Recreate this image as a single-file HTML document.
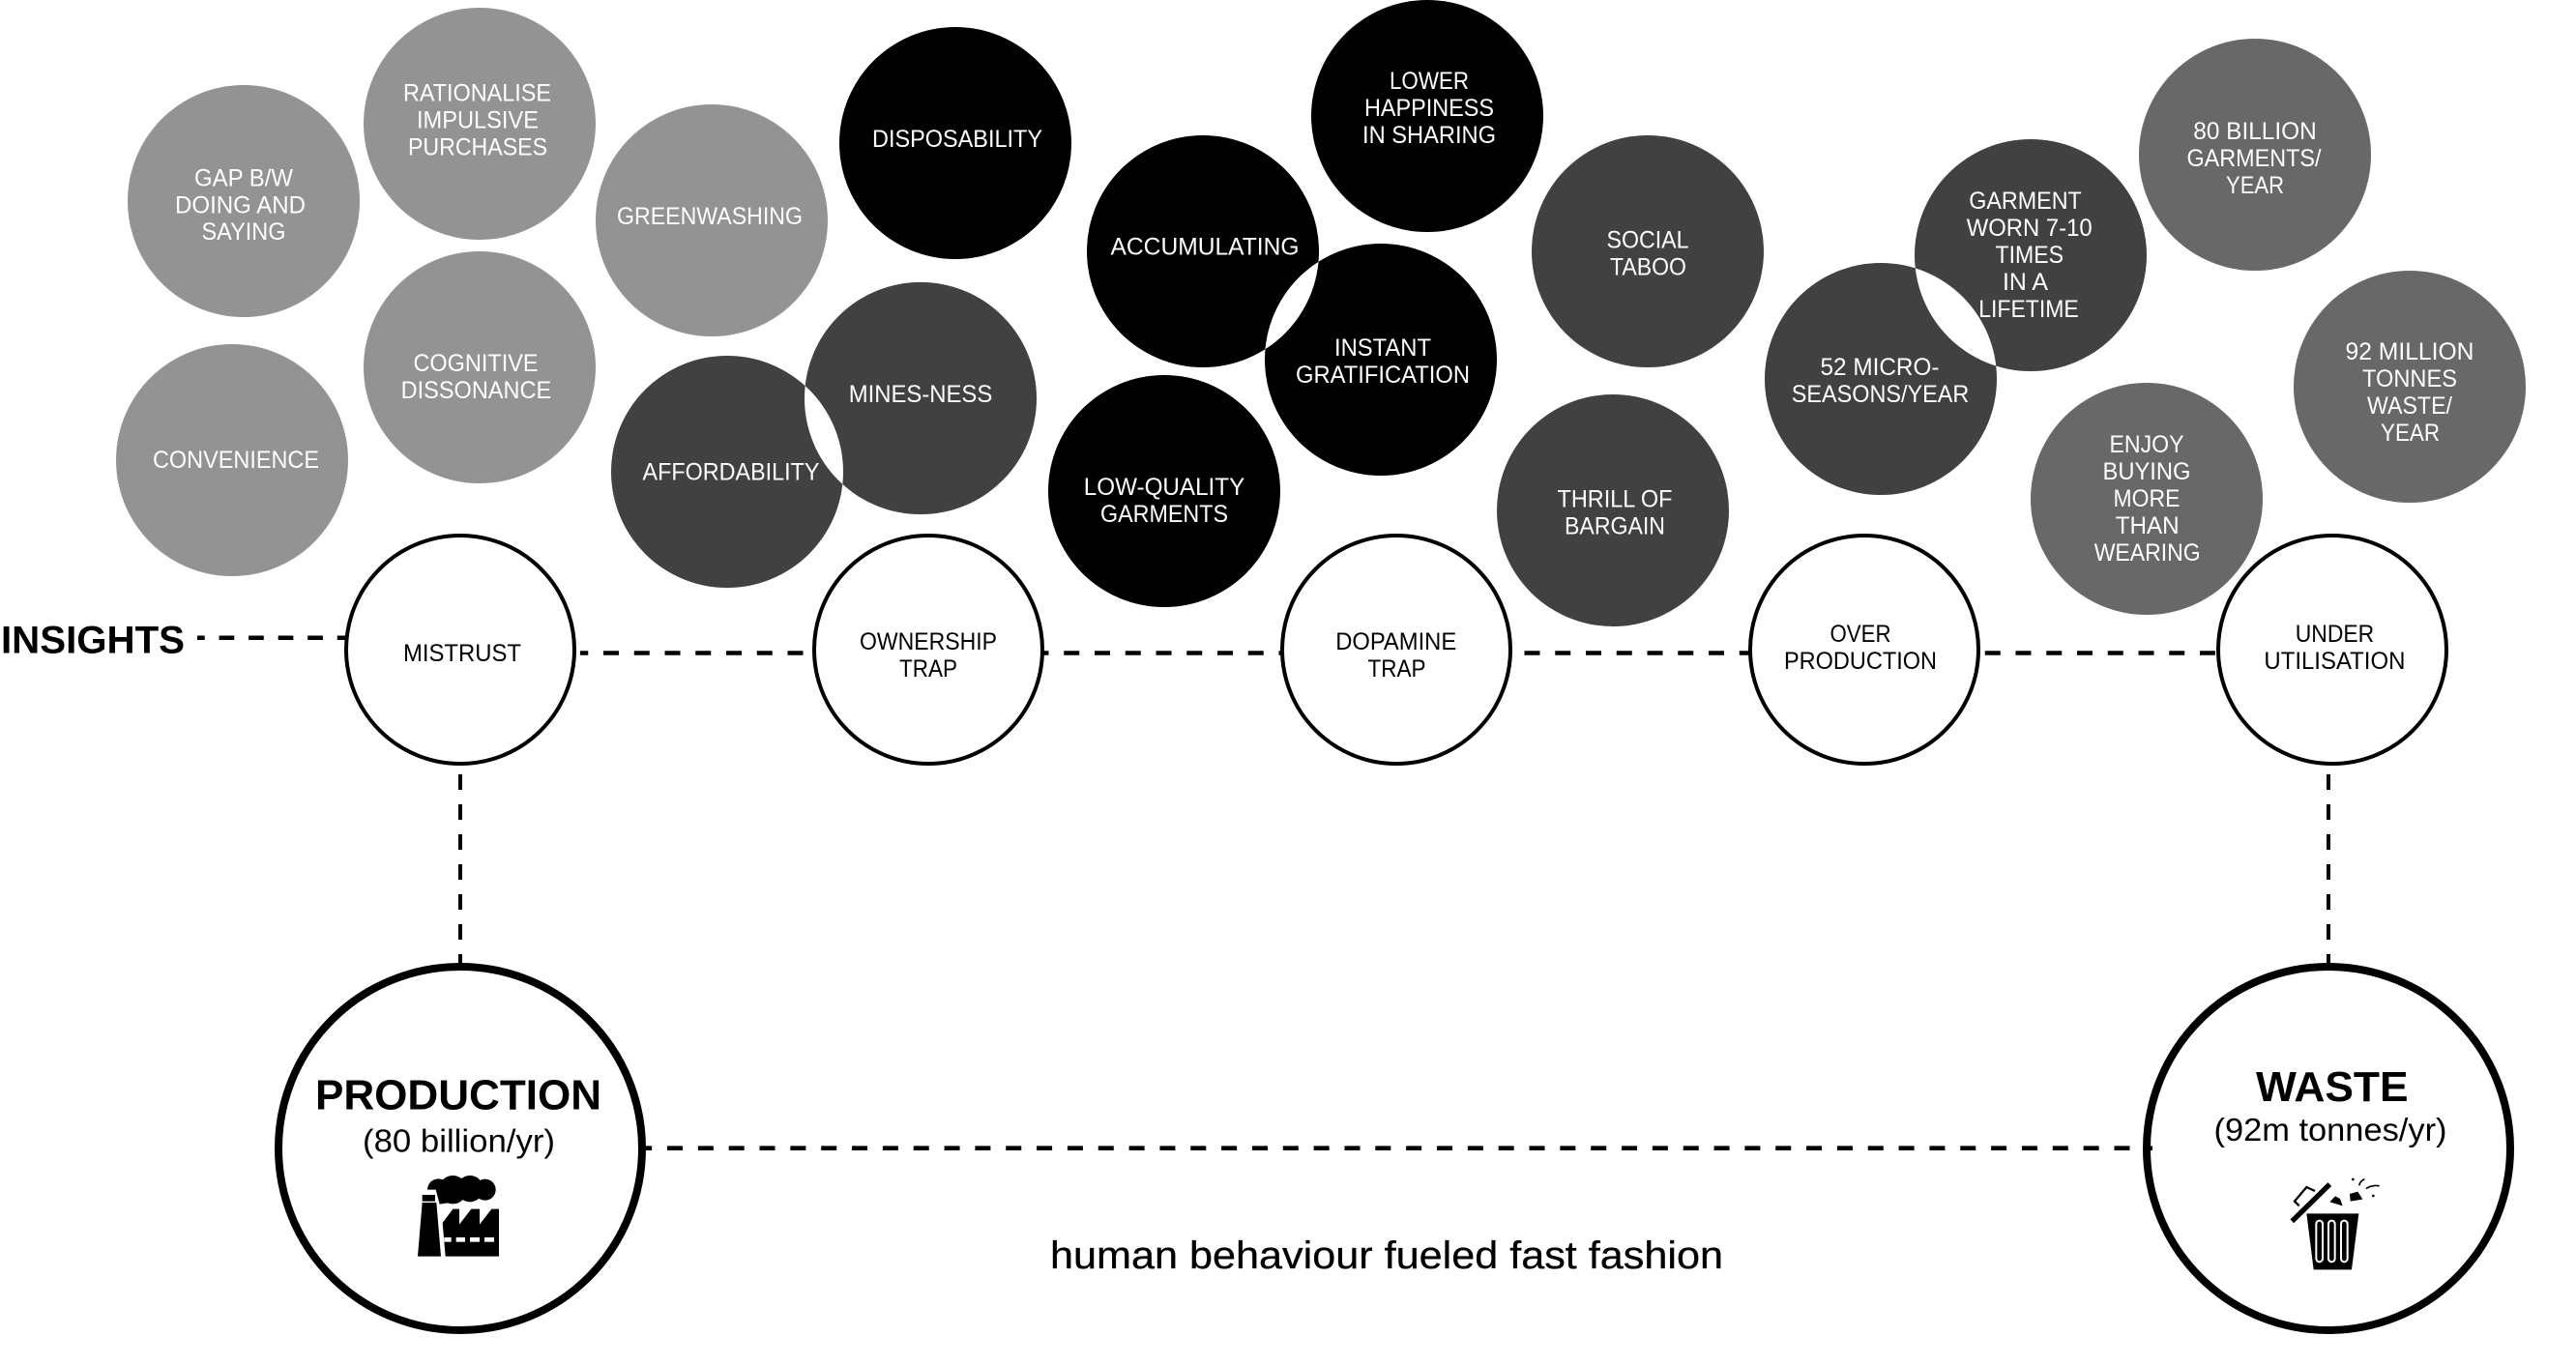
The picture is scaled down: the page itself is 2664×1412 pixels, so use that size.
<!DOCTYPE html>
<html>
<head>
<meta charset="utf-8">
<style>
html,body{margin:0;padding:0;background:#fff;width:2664px;height:1412px;overflow:hidden}
svg{display:block}
text{font-family:"Liberation Sans",sans-serif}
.l text{font-size:25px;fill:#fff;text-anchor:middle}
.d text{font-size:25px;fill:#000;text-anchor:middle}
</style>
</head>
<body>
<svg width="2664" height="1412" viewBox="0 0 2664 1412" xmlns="http://www.w3.org/2000/svg">
<rect width="2664" height="1412" fill="#fff"/>

<!-- light gray -->
<g fill="#939393">
<circle cx="252" cy="208" r="120"/>
<circle cx="496" cy="128" r="120"/>
<circle cx="736" cy="228" r="120"/>
<circle cx="496" cy="380" r="120"/>
<circle cx="240" cy="476" r="120"/>
</g>
<!-- dark -->
<g fill="#414141" fill-rule="evenodd">
<path d="M632 488a120 120 0 1 0 240 0a120 120 0 1 0 -240 0zM832 412a120 120 0 1 0 240 0a120 120 0 1 0 -240 0z"/>
<path d="M1825 392a120 120 0 1 0 240 0a120 120 0 1 0 -240 0zM1980 264a120 120 0 1 0 240 0a120 120 0 1 0 -240 0z"/>
<circle cx="1704" cy="260" r="120"/>
<circle cx="1668" cy="528" r="120"/>
</g>
<!-- black -->
<g fill="#000" fill-rule="evenodd">
<path d="M1124 260a120 120 0 1 0 240 0a120 120 0 1 0 -240 0zM1308 372a120 120 0 1 0 240 0a120 120 0 1 0 -240 0z"/>
<circle cx="988" cy="148" r="120"/>
<circle cx="1204" cy="508" r="120"/>
<circle cx="1476" cy="120" r="120"/>
</g>
<!-- mid gray -->
<g fill="#686868">
<circle cx="2332" cy="160" r="120"/>
<circle cx="2492" cy="400" r="120"/>
<circle cx="2220" cy="516" r="120"/>
</g>

<!-- dashed connectors -->
<g fill="none" stroke="#000">
<line x1="204" y1="659.7" x2="358" y2="659.7" stroke-width="4.5" stroke-dasharray="15.7 14.85" stroke-dashoffset="8"/>
<line x1="600" y1="675.5" x2="2300" y2="675.5" stroke-width="4.5" stroke-dasharray="16 15.75" stroke-dashoffset="7.75"/>
<line x1="476" y1="801" x2="476" y2="998" stroke-width="4" stroke-dasharray="16 15"/>
<line x1="2408" y1="801" x2="2408" y2="998" stroke-width="4" stroke-dasharray="16 15"/>
</g>

<!-- insight circles -->
<g fill="#fff" stroke="#000" stroke-width="4">
<circle cx="476" cy="672" r="118"/>
<circle cx="960" cy="672" r="118"/>
<circle cx="1444" cy="672" r="118"/>
<circle cx="1928" cy="672" r="118"/>
<circle cx="2412" cy="672" r="118"/>
</g>

<!-- big circles -->
<g fill="#fff" stroke="#000" stroke-width="8">
<circle cx="476" cy="1188" r="188"/>
<circle cx="2408" cy="1188" r="188"/>
</g>
<line x1="668" y1="1187.7" x2="2226" y2="1187.7" stroke="#000" stroke-width="4.6" stroke-dasharray="16 15.84" stroke-dashoffset="9.84"/>

<!-- labels white -->
<g class="l">
<text x="252" y="192.3" textLength="102" lengthAdjust="spacingAndGlyphs">GAP B/W</text>
<text x="248.5" y="220.3" textLength="135" lengthAdjust="spacingAndGlyphs">DOING AND</text>
<text x="252" y="248.2" textLength="87" lengthAdjust="spacingAndGlyphs">SAYING</text>
<text x="493.5" y="104.5" textLength="153" lengthAdjust="spacingAndGlyphs">RATIONALISE</text>
<text x="494" y="132.5" textLength="126" lengthAdjust="spacingAndGlyphs">IMPULSIVE</text>
<text x="494" y="160.4" textLength="144" lengthAdjust="spacingAndGlyphs">PURCHASES</text>
<text x="734" y="232" textLength="192" lengthAdjust="spacingAndGlyphs">GREENWASHING</text>
<text x="492" y="384" textLength="129" lengthAdjust="spacingAndGlyphs">COGNITIVE</text>
<text x="492.4" y="412" textLength="155.5" lengthAdjust="spacingAndGlyphs">DISSONANCE</text>
<text x="244" y="484" textLength="172" lengthAdjust="spacingAndGlyphs">CONVENIENCE</text>
<text x="990" y="152" textLength="176" lengthAdjust="spacingAndGlyphs">DISPOSABILITY</text>
<text x="1246" y="263.5" textLength="195" lengthAdjust="spacingAndGlyphs">ACCUMULATING</text>
<text x="756" y="496.4" textLength="183" lengthAdjust="spacingAndGlyphs">AFFORDABILITY</text>
<text x="952" y="416" textLength="148.5" lengthAdjust="spacingAndGlyphs">MINES-NESS</text>
<text x="1204" y="512" textLength="166.5" lengthAdjust="spacingAndGlyphs">LOW-QUALITY</text>
<text x="1204" y="540" textLength="132" lengthAdjust="spacingAndGlyphs">GARMENTS</text>
<text x="1478" y="92" textLength="82" lengthAdjust="spacingAndGlyphs">LOWER</text>
<text x="1478" y="120" textLength="134" lengthAdjust="spacingAndGlyphs">HAPPINESS</text>
<text x="1478" y="148" textLength="138" lengthAdjust="spacingAndGlyphs">IN SHARING</text>
<text x="1430" y="368" textLength="100" lengthAdjust="spacingAndGlyphs">INSTANT</text>
<text x="1430" y="396" textLength="180" lengthAdjust="spacingAndGlyphs">GRATIFICATION</text>
<text x="1704" y="256.4" textLength="85" lengthAdjust="spacingAndGlyphs">SOCIAL</text>
<text x="1704.5" y="284.4" textLength="79" lengthAdjust="spacingAndGlyphs">TABOO</text>
<text x="1670" y="524.4" textLength="119" lengthAdjust="spacingAndGlyphs">THRILL OF</text>
<text x="1670" y="552.4" textLength="104" lengthAdjust="spacingAndGlyphs">BARGAIN</text>
<text x="1944" y="388" textLength="123" lengthAdjust="spacingAndGlyphs">52 MICRO-</text>
<text x="1944.5" y="416" textLength="183.5" lengthAdjust="spacingAndGlyphs">SEASONS/YEAR</text>
<text x="2094.5" y="216" textLength="116.5" lengthAdjust="spacingAndGlyphs">GARMENT</text>
<text x="2098.7" y="244" textLength="130" lengthAdjust="spacingAndGlyphs">WORN 7-10</text>
<text x="2098.8" y="272" textLength="70.5" lengthAdjust="spacingAndGlyphs">TIMES</text>
<text x="2094.5" y="300" textLength="47" lengthAdjust="spacingAndGlyphs">IN A</text>
<text x="2098" y="328" textLength="103.6" lengthAdjust="spacingAndGlyphs">LIFETIME</text>
<text x="2332" y="144" textLength="127.5" lengthAdjust="spacingAndGlyphs">80 BILLION</text>
<text x="2331" y="172" textLength="139" lengthAdjust="spacingAndGlyphs">GARMENTS/</text>
<text x="2332" y="200" textLength="60" lengthAdjust="spacingAndGlyphs">YEAR</text>
<text x="2492" y="372" textLength="133" lengthAdjust="spacingAndGlyphs">92 MILLION</text>
<text x="2492" y="400" textLength="98" lengthAdjust="spacingAndGlyphs">TONNES</text>
<text x="2492" y="428" textLength="88" lengthAdjust="spacingAndGlyphs">WASTE/</text>
<text x="2492.5" y="456" textLength="61" lengthAdjust="spacingAndGlyphs">YEAR</text>
<text x="2220" y="468" textLength="77" lengthAdjust="spacingAndGlyphs">ENJOY</text>
<text x="2220" y="496" textLength="91" lengthAdjust="spacingAndGlyphs">BUYING</text>
<text x="2220" y="524" textLength="69" lengthAdjust="spacingAndGlyphs">MORE</text>
<text x="2220.7" y="552" textLength="66" lengthAdjust="spacingAndGlyphs">THAN</text>
<text x="2220.7" y="580" textLength="110" lengthAdjust="spacingAndGlyphs">WEARING</text>
</g>

<!-- labels black -->
<g class="d">
<text x="478" y="684" textLength="122" lengthAdjust="spacingAndGlyphs">MISTRUST</text>
<text x="960" y="672" textLength="142" lengthAdjust="spacingAndGlyphs">OWNERSHIP</text>
<text x="960" y="700" textLength="60" lengthAdjust="spacingAndGlyphs">TRAP</text>
<text x="1443.7" y="672" textLength="125" lengthAdjust="spacingAndGlyphs">DOPAMINE</text>
<text x="1444.5" y="700" textLength="60" lengthAdjust="spacingAndGlyphs">TRAP</text>
<text x="1924" y="664" textLength="63" lengthAdjust="spacingAndGlyphs">OVER</text>
<text x="1924" y="692" textLength="158" lengthAdjust="spacingAndGlyphs">PRODUCTION</text>
<text x="2414.5" y="664" textLength="81.5" lengthAdjust="spacingAndGlyphs">UNDER</text>
<text x="2414.4" y="692" textLength="146" lengthAdjust="spacingAndGlyphs">UTILISATION</text>
</g>

<text x="1" y="675.7" font-size="40" font-weight="700" fill="#000" textLength="190" lengthAdjust="spacingAndGlyphs">INSIGHTS</text>

<text x="326" y="1147.7" font-size="44" font-weight="700" fill="#000" textLength="296" lengthAdjust="spacingAndGlyphs">PRODUCTION</text>
<text x="375" y="1191.7" font-size="33" fill="#000" textLength="199" lengthAdjust="spacingAndGlyphs">(80 billion/yr)</text>
<text x="2333" y="1139" font-size="44" font-weight="700" fill="#000" textLength="157.5" lengthAdjust="spacingAndGlyphs">WASTE</text>
<text x="2289.5" y="1180" font-size="33" fill="#000" textLength="241" lengthAdjust="spacingAndGlyphs">(92m tonnes/yr)</text>
<text x="1086" y="1312" font-size="40" fill="#000" stroke="#000" stroke-width="0.3" textLength="696" lengthAdjust="spacingAndGlyphs">human behaviour fueled fast fashion</text>

<!-- factory icon -->
<g transform="translate(250 980) scale(0.33333)" fill="#000">
<polygon points="546,959 618,959 604,792 560,792"/>
<rect x="560" y="768" width="40" height="20"/>
<circle cx="755" cy="752" r="33"/>
<circle cx="708" cy="749" r="41"/>
<circle cx="655" cy="752" r="44"/>
<path d="M576 752A34 34 0 0 1 644 752Z"/>
<polygon points="602,752 660,752 660,790 614,797"/>
<polygon points="632,959 798,959 798,812 775,812 738,860 738,812 712,812 675,860 675,812 655,812 623,855"/>
<g fill="#fff">
<rect x="628" y="900" width="22" height="14"/>
<rect x="665" y="900" width="28" height="14"/>
<rect x="708" y="900" width="30" height="14"/>
<rect x="753" y="900" width="30" height="14"/>
</g>
</g>

<!-- trash icon -->
<g transform="translate(2200 980) scale(0.33333)">
<polygon points="556,826 718,826 696,1000 578,1000" fill="#000"/>
<g fill="none" stroke="#fff" stroke-width="6">
<rect x="586" y="848" width="20" height="128" rx="10"/>
<rect x="624" y="848" width="20" height="128" rx="10"/>
<rect x="663" y="848" width="20" height="128" rx="10"/>
</g>
<line x1="511" y1="850" x2="628" y2="735" stroke="#000" stroke-width="16"/>
<polyline points="533,802 519,788 556,744 582,756" fill="none" stroke="#000" stroke-width="7"/>
<polygon points="628,790 645,772 660,780 668,802" fill="#000"/>
<polygon points="690,765 715,758 730,782 692,788" fill="#000"/>
<circle cx="700" cy="720" r="4" fill="#000"/>
<circle cx="763" cy="771" r="4" fill="#000"/>
<path d="M719 739q4 -14 17 -20" fill="none" stroke="#000" stroke-width="5"/>
<path d="M741 749q14 -12 41 -9" fill="none" stroke="#000" stroke-width="5"/>
</g>
</svg>
</body>
</html>
